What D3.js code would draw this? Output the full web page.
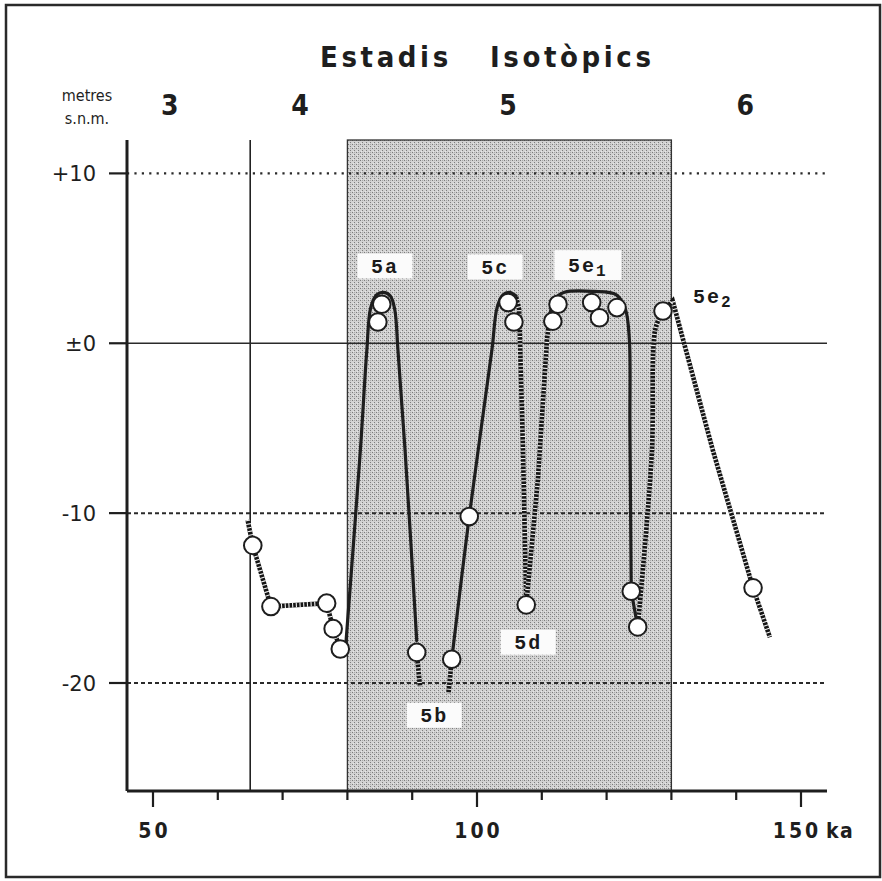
<!DOCTYPE html>
<html>
<head>
<meta charset="utf-8">
<script src="https://cdn.jsdelivr.net/npm/d3@7"></script>
<style>
  html, body { margin: 0; padding: 0; background: #ffffff; }
  svg { display: block; }
</style>
</head>
<body>
<div id="chart"></div>
<script>
// ---------------- DATA ----------------
const xTicks = [50, 60, 70, 80, 90, 100, 110, 120, 130, 140, 150];
const xTickLabels = ["50", "100", "150"];
const xTickLabelValues = [50, 100, 150];
const yTicks = [10, 0, -10, -20];
const yTickLabels = ["+10", "±0", "-10", "-20"];

const stages = ["3", "4", "5", "6"];
const stageKa = [52.6, 72.7, 104.8, 141.4];

const stage5Start = 80;   // ka
const stage5End = 130;    // ka
const stage4Start = 65;   // ka

// sample points: age (ka) and height (m a.s.l.)
const pointKa = [65.4, 68.2, 76.8, 77.8, 78.9, 84.7, 85.3, 90.7, 96.1, 98.8, 104.8,
                 105.7, 107.6, 111.7, 112.5, 117.7, 118.9, 121.6, 123.8, 124.8, 128.7, 142.6];
const pointM  = [-11.9, -15.5, -15.3, -16.8, -18.0, 1.25, 2.3, -18.2, -18.6, -10.2, 2.4,
                 1.25, -15.4, 1.3, 2.3, 2.4, 1.5, 2.1, -14.6, -16.7, 1.9, -14.4];

// sea-level curves (ka, m)
const solid5a = [[79.8,-17.5],[82.0,-6.3],[83.0,-0.4],[83.6,2.1],[84.5,2.85],[85.5,3.0],[86.6,2.8],[87.3,2.0],[87.8,-0.4],[88.9,-6.3],[90.7,-17.5]];
const solid5c = [[96.1,-18.6],[98.8,-10.2],[102.3,-0.4],[103.1,2.1],[104.0,2.85],[105.0,3.0],[106.0,2.8]];
const solid5e1 = [[111.2,1.6],[112.0,2.6],[113.5,3.0],[118.0,3.05],[121.5,2.85],[122.9,2.0],[123.5,0.3],[123.6,-5.0],[123.8,-14.6]];
const solid5e1b = [[123.8,-14.6],[124.8,-16.7]];

const hatchLeft = [[64.6,-10.4],[65.4,-11.9],[68.2,-15.5],[76.8,-15.3],[77.8,-16.8],[78.9,-18.0]];
const hatch5b1 = [[90.7,-18.2],[91.2,-20.2]];
const hatch5b2 = [[96.1,-18.6],[95.6,-20.6]];
const hatch5d1 = [[106.0,2.8],[106.5,2.0],[107.1,-6.3],[107.6,-15.4]];
const hatch5d2 = [[107.6,-15.4],[109.4,-8.0],[110.8,0.2],[111.2,1.6]];
const hatch5e2a = [[124.8,-16.7],[127.0,-6.3],[127.5,0.8],[128.7,1.9]];
const hatch5e2b = [[128.7,1.9],[130.2,2.5],[136.4,-6.3],[142.6,-14.4],[145.2,-17.3]];

// substage labels
const subLabels = ["5a", "5c", "5e", "5b", "5d", "5e"];
const subIdx    = ["", "", "1", "", "", "2"];
const subKa     = [85.8, 102.8, 117.1, 93.4, 107.9, 136.4];
const subM      = [4.55, 4.5, 4.6, -21.9, -17.6, 2.8];
const subBoxed  = [true, true, true, true, true, false];

// ---------------- LAYOUT ----------------
const W = 882, H = 881;
const svg = d3.select("#chart").append("svg").attr("width", W).attr("height", H);

const x = d3.scaleLinear().domain([50, 150]).range([153, 801]);
const y = d3.scaleLinear().domain([-20, 10]).range([683, 173.4]);
const xMin = x.invert(127), xMax = x.invert(827);
const yMin = y.invert(791), yMax = y.invert(140);

// pattern for the stage 5 shading
const defs = svg.append("defs");
const pat = defs.append("pattern").attr("id", "stip").attr("width", 4).attr("height", 4)
  .attr("patternUnits", "userSpaceOnUse");
pat.append("rect").attr("width", 4).attr("height", 4).attr("fill", "#d2d2d2");
[[0,0,"#7c7c7c"],[2,2,"#7c7c7c"],[2,0,"#a8a8a8"],[1,3,"#e6e6e6"]].forEach(p => {
  pat.append("rect").attr("x", p[0]).attr("y", p[1]).attr("width", 1).attr("height", 1).attr("fill", p[2]);
});

// outer frame
svg.append("rect").attr("x", 6).attr("y", 5).attr("width", 874).attr("height", 872)
  .attr("fill", "none").attr("stroke", "#2a2a2a").attr("stroke-width", 2.5);

// stage 5 shading
svg.append("rect")
  .attr("x", x(stage5Start)).attr("y", y(yMax))
  .attr("width", x(stage5End) - x(stage5Start)).attr("height", y(yMin) - y(yMax))
  .attr("fill", "url(#stip)").attr("stroke", "#333").attr("stroke-width", 1.3);

// stage 4 boundary
svg.append("line").attr("x1", x(stage4Start)).attr("x2", x(stage4Start))
  .attr("y1", y(yMax)).attr("y2", y(yMin)).attr("stroke", "#222").attr("stroke-width", 1.6);

// horizontal reference lines
const gridStyle = {
  "10": {dash: "2.2,5.2", w: 2.3},
  "0": {dash: null, w: 1.5},
  "-10": {dash: "4,3", w: 2},
  "-20": {dash: "4,3", w: 2}
};
yTicks.forEach(v => {
  const st = gridStyle[String(v)];
  svg.append("line").attr("x1", x(xMin)).attr("x2", x(xMax))
    .attr("y1", y(v)).attr("y2", y(v))
    .attr("stroke", "#2a2a2a").attr("stroke-width", st.w)
    .attr("stroke-dasharray", st.dash);
});

// curves
const line = d3.line().x(d => x(d[0])).y(d => y(d[1])).curve(d3.curveCatmullRom.alpha(0.5));
const lineLin = d3.line().x(d => x(d[0])).y(d => y(d[1]));

function hatch(data, curved) {
  const d = (curved ? line : lineLin)(data);
  svg.append("path").attr("d", d)
    .attr("fill", "none").attr("stroke", "#151515").attr("stroke-width", 4.6);
  svg.append("path").attr("d", d)
    .attr("fill", "none").attr("stroke", "#f2f2f2").attr("stroke-width", 4.8)
    .attr("stroke-dasharray", "1.1,2.6");
}
function solid(data, curved) {
  svg.append("path").attr("d", (curved ? line : lineLin)(data))
    .attr("fill", "none").attr("stroke", "#1e1e1e").attr("stroke-width", 3.2)
    .attr("stroke-linejoin", "round").attr("stroke-linecap", "round");
}
hatch(hatchLeft, false);
hatch(hatch5b1, false);
hatch(hatch5b2, false);
hatch(hatch5d1, false);
hatch(hatch5d2, false);
hatch(hatch5e2a, true);
hatch(hatch5e2b, false);
solid(solid5a, true);
solid(solid5c, true);
solid(solid5e1, true);
solid(solid5e1b, false);

// sample points
svg.append("g").selectAll("circle").data(pointKa.map((k, i) => [k, pointM[i]]))
  .join("circle")
  .attr("cx", d => x(d[0])).attr("cy", d => y(d[1])).attr("r", 8.8)
  .attr("fill", "#ffffff").attr("stroke", "#1e1e1e").attr("stroke-width", 2);

// substage labels
const monoFont = "'Liberation Mono', 'DejaVu Sans Mono', monospace";
subLabels.forEach((lab, i) => {
  const cx = x(subKa[i]), cy = y(subM[i]);
  const g = svg.append("g");
  if (subBoxed[i]) {
    const bw = subIdx[i] ? 67 : 55, bh = subIdx[i] ? 30 : 25;
    g.append("rect").attr("x", cx - bw / 2).attr("y", cy - bh / 2)
      .attr("width", bw).attr("height", bh).attr("fill", "#fbfbfb");
  }
  const t = g.append("text").attr("x", cx).attr("y", cy + 7)
    .attr("text-anchor", "middle")
    .attr("font-family", monoFont).attr("font-weight", "bold")
    .attr("font-size", 20).attr("fill", "#1a1a1a").attr("letter-spacing", 2);
  t.append("tspan").text(lab);
  if (subIdx[i]) {
    t.append("tspan").attr("font-size", 16).attr("dy", 4).text(subIdx[i]);
  }
});

// axes
const axisColor = "#1e1e1e";
// y axis
svg.append("line").attr("x1", x(xMin)).attr("x2", x(xMin))
  .attr("y1", y(yMax)).attr("y2", y(yMin)).attr("stroke", axisColor).attr("stroke-width", 3);
yTicks.forEach((v, i) => {
  svg.append("line").attr("x1", x(xMin) - 18).attr("x2", x(xMin))
    .attr("y1", y(v)).attr("y2", y(v)).attr("stroke", axisColor).attr("stroke-width", 2.2);
  svg.append("text").attr("x", 96).attr("y", y(v) + 7.5)
    .attr("text-anchor", "end")
    .attr("font-family", "'DejaVu Sans', 'Liberation Sans', sans-serif")
    .attr("font-size", 21).attr("fill", "#1e1e1e").text(yTickLabels[i]);
});
// x axis
svg.append("line").attr("x1", x(xMin)).attr("x2", x(xMax))
  .attr("y1", y(yMin)).attr("y2", y(yMin)).attr("stroke", axisColor).attr("stroke-width", 3);
xTicks.forEach(v => {
  const major = xTickLabelValues.includes(v);
  svg.append("line").attr("x1", x(v)).attr("x2", x(v))
    .attr("y1", y(yMin)).attr("y2", y(yMin) + (major ? 16 : 9))
    .attr("stroke", axisColor).attr("stroke-width", 2.2);
});
const narrow = "'Liberation Sans Narrow', 'DejaVu Sans Condensed', 'Liberation Sans', sans-serif";
xTickLabels.forEach((lab, i) => {
  svg.append("text").attr("x", x(xTickLabelValues[i]) + (i === 2 ? -4 : 1.5)).attr("y", 838)
    .attr("text-anchor", "middle").attr("font-family", narrow).attr("font-weight", "bold")
    .attr("font-size", 21).attr("letter-spacing", 3).attr("fill", "#1e1e1e").text(lab);
});
svg.append("text").attr("x", 826).attr("y", 838).attr("font-family", narrow)
  .attr("font-weight", "bold").attr("font-size", 21).attr("fill", "#1e1e1e")
  .attr("letter-spacing", 1.5).text("ka");

// header
svg.append("text").attr("x", 320).attr("y", 67).attr("font-family", narrow)
  .attr("font-weight", "bold").attr("font-size", 29).attr("letter-spacing", 3.6)
  .attr("fill", "#1e1e1e").text("Estadis");
svg.append("text").attr("x", 490).attr("y", 67).attr("font-family", narrow)
  .attr("font-weight", "bold").attr("font-size", 29).attr("letter-spacing", 3.6)
  .attr("fill", "#1e1e1e").text("Isotòpics");

stages.forEach((s, i) => {
  svg.append("text").attr("x", x(stageKa[i])).attr("y", 115).attr("text-anchor", "middle")
    .attr("font-family", narrow).attr("font-weight", "bold").attr("font-size", 28)
    .attr("fill", "#1e1e1e").text(s);
});

svg.append("text").attr("x", 87).attr("y", 101).attr("text-anchor", "middle")
  .attr("font-family", narrow).attr("font-size", 16).attr("fill", "#1e1e1e").text("metres");
svg.append("text").attr("x", 87).attr("y", 124).attr("text-anchor", "middle")
  .attr("font-family", narrow).attr("font-size", 16).attr("fill", "#1e1e1e").text("s.n.m.");
</script>
</body>
</html>
